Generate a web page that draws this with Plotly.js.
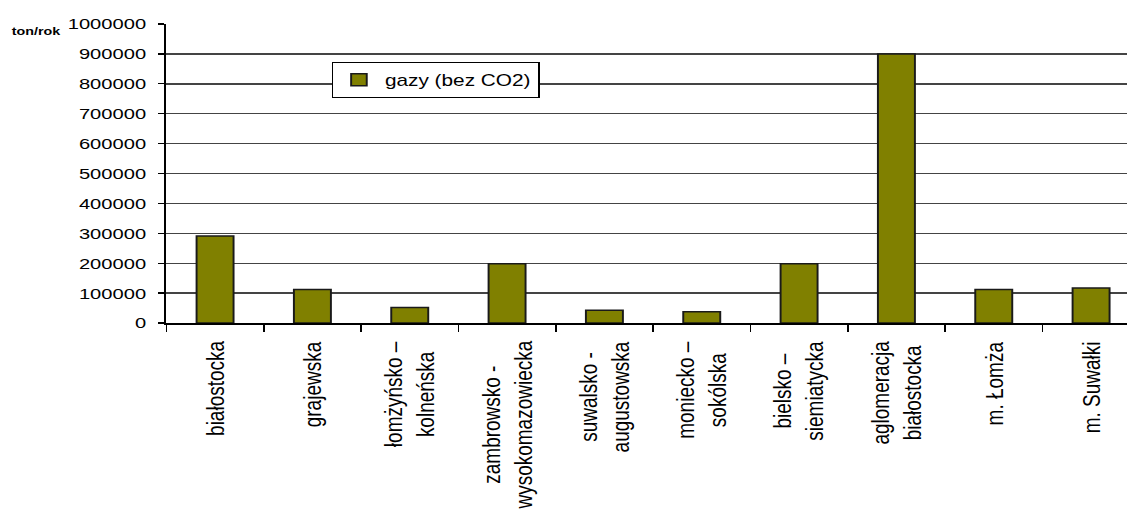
<!DOCTYPE html>
<html>
<head>
<meta charset="utf-8">
<script src="https://cdn.plot.ly/plotly-3.0.1.min.js"></script>
<style>
  html, body { margin: 0; padding: 0; background: #fff; overflow: hidden; }
  #chart { width: 867px; height: 509px; transform: scaleX(1.3); transform-origin: 0 0; }
</style>
</head>
<body>
<div id="chart"></div>
<script>
// Data
var categories = [
  "białostocka",
  "grajewska",
  "łomżyńsko –<br>kolneńska",
  "zambrowsko -<br>wysokomazowiecka",
  "suwalsko -<br>augustowska",
  "moniecko –<br>sokólska",
  "bielsko –<br>siemiatycka",
  "aglomeracja<br>białostocka",
  "m. Łomża",
  "m. Suwałki"
];
var values = [291000, 112000, 52000, 198000, 43000, 38000, 198000, 900000, 112000, 117000];
var seriesName = "gazy (bez CO2)";
var unitLabel = "ton/rok";
var yTickValues = [0, 100000, 200000, 300000, 400000, 500000, 600000, 700000, 800000, 900000, 1000000];

var font = "Liberation Sans, Arial, sans-serif";

var trace = {
  type: "bar",
  x: categories.map(function (c, i) { return i; }),
  y: values,
  name: seriesName,
  width: 0.38,
  marker: { color: "#808000", line: { color: "#1a1a1a", width: 1.5 } },
  showlegend: true,
  hoverinfo: "skip"
};

var annotations = categories.map(function (c, i) {
  return {
    text: c, x: i, xref: "x", y: 0, yref: "paper",
    xanchor: "center", yanchor: "top", yshift: -16,
    textangle: -90, align: "center", showarrow: false,
    font: { family: font, size: 19, color: "#000" }
  };
});
annotations.push({
  text: "<b>" + unitLabel + "</b>", xref: "paper", x: 0, yref: "paper", y: 1,
  xanchor: "left", yanchor: "middle", xshift: -121, yshift: -7,
  showarrow: false, font: { family: font, size: 11, color: "#000" }
});

var layout = {
  width: 867, height: 509,
  margin: { l: 127.7, r: 0, t: 24, b: 186, pad: 0 },
  paper_bgcolor: "#fff", plot_bgcolor: "#fff",
  font: { family: font, color: "#000" },
  showlegend: true,
  legend: {
    x: 0.172, y: 0.873, xanchor: "left", yanchor: "top",
    bgcolor: "#fff", bordercolor: "#000", borderwidth: 1,
    font: { family: font, size: 16, color: "#000" }
  },
  xaxis: {
    type: "linear", range: [-0.5, 9.37],
    tickmode: "array",
    tickvals: categories.map(function (c, i) { return i - 0.5; }),
    showticklabels: false,
    ticks: "outside", ticklen: 7, tickwidth: 1.3, tickcolor: "#000",
    showline: true, linecolor: "#000", linewidth: 1.5,
    showgrid: false, zeroline: false, fixedrange: true
  },
  yaxis: {
    range: [0, 1000000],
    tickmode: "array", tickvals: yTickValues,
    ticktext: yTickValues.map(function (v) { return String(v); }),
    ticks: "outside", ticklen: 5, tickwidth: 1.3, tickcolor: "#000",
    ticklabelstandoff: 6,
    tickfont: { family: font, size: 15.5, color: "#000" },
    showline: true, linecolor: "#000", linewidth: 1.5,
    showgrid: true, gridcolor: "#444", gridwidth: 1.4,
    zeroline: false, fixedrange: true
  },
  annotations: annotations
};

Plotly.newPlot("chart", [trace], layout, { displayModeBar: false, staticPlot: true });
</script>
</body>
</html>
